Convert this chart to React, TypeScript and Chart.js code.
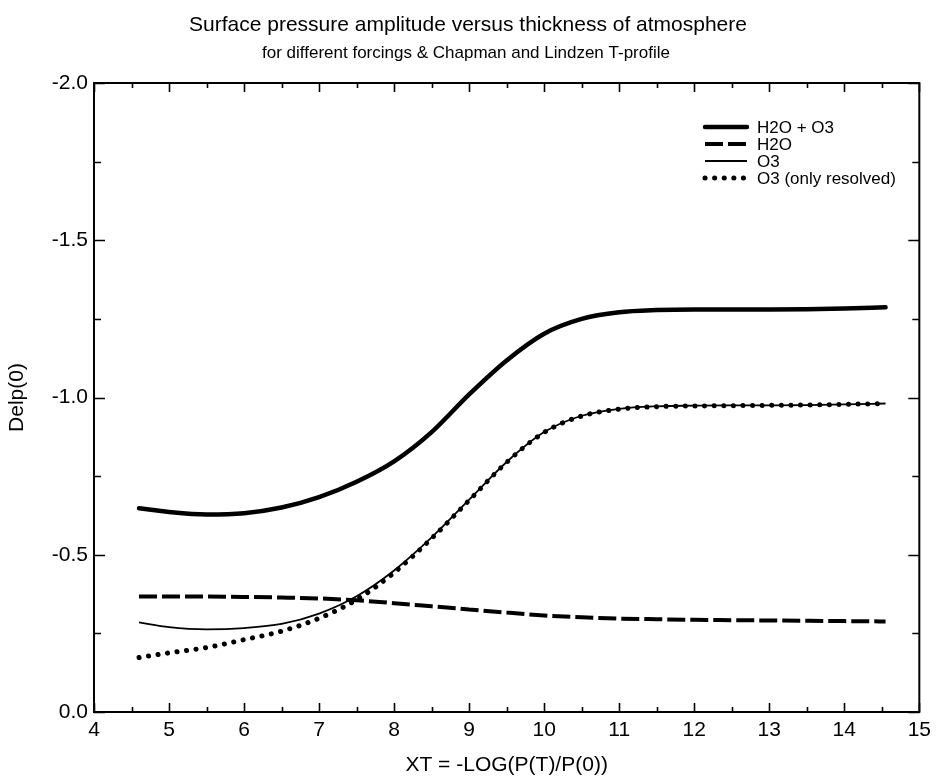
import React, { useEffect, useRef } from "react";
import { Chart, registerables } from "chart.js";

Chart.register(...registerables);

// ---- data ----
const XT = [4.6, 5.0, 5.5, 6.0, 6.5, 7.0, 7.5, 8.0, 8.5, 9.0, 9.5, 10.0, 10.5, 11.0, 11.5, 12.0, 12.5, 13.0, 13.5, 14.0, 14.55];
const H2O_O3 = [-0.648, -0.636, -0.628, -0.632, -0.65, -0.683, -0.732, -0.797, -0.89, -1.01, -1.118, -1.203, -1.25, -1.271, -1.278, -1.28, -1.28, -1.28, -1.281, -1.283, -1.287];
const H2O = [-0.367, -0.367, -0.367, -0.366, -0.364, -0.361, -0.355, -0.346, -0.336, -0.326, -0.316, -0.307, -0.301, -0.297, -0.295, -0.293, -0.292, -0.291, -0.29, -0.289, -0.288];
const O3 = [-0.285, -0.27, -0.263, -0.267, -0.28, -0.313, -0.368, -0.45, -0.555, -0.675, -0.795, -0.89, -0.942, -0.964, -0.972, -0.974, -0.975, -0.975, -0.976, -0.978, -0.981];
const O3_RESOLVED = [-0.173, -0.188, -0.205, -0.23, -0.257, -0.298, -0.357, -0.443, -0.552, -0.673, -0.794, -0.889, -0.941, -0.963, -0.971, -0.973, -0.974, -0.975, -0.976, -0.978, -0.981];

const SERIES_LABELS = ["H2O + O3", "H2O", "O3", "O3 (only resolved)"];
const X_MIN = 4;
const X_MAX = 15;
const Y_MIN = -2.0;
const Y_MAX = 0.0;
const X_STEP = 1;
const Y_STEP = 0.5;

const TITLE = "Surface pressure amplitude versus thickness of atmosphere";
const SUBTITLE = "for different forcings & Chapman and Lindzen T-profile";
const X_TITLE = "XT = -LOG(P(T)/P(0))";
const Y_TITLE = "Delp(0)";

const FONT = "'Liberation Sans', Arial, Helvetica, sans-serif";

const toPoints = (ys: number[]) => XT.map((x, i) => ({ x, y: ys[i] }));

const framePlugin = {
  id: "frameTicks",
  afterDraw(chart: any) {
    const { ctx, chartArea: a, scales } = chart;
    const xs = scales.x;
    const ys = scales.y;
    ctx.save();
    ctx.strokeStyle = "#000";
    ctx.lineWidth = 2;
    ctx.strokeRect(a.left, a.top, a.right - a.left, a.bottom - a.top);
    ctx.lineWidth = 1.6;
    ctx.beginPath();
    const nx = Math.round((X_MAX - X_MIN) / (X_STEP / 2));
    for (let i = 0; i <= nx; i++) {
      const v = X_MIN + (i * X_STEP) / 2;
      const px = Math.round(xs.getPixelForValue(v)) + 0.5;
      const len = i % 2 === 0 ? 9 : 5;
      ctx.moveTo(px, a.bottom);
      ctx.lineTo(px, a.bottom - len);
      ctx.moveTo(px, a.top);
      ctx.lineTo(px, a.top + len);
    }
    const ny = Math.round((Y_MAX - Y_MIN) / (Y_STEP / 2));
    for (let i = 0; i <= ny; i++) {
      const v = Y_MIN + (i * Y_STEP) / 2;
      const py = Math.round(ys.getPixelForValue(v)) + 0.5;
      const len = i % 2 === 0 ? 11 : 7;
      ctx.moveTo(a.left, py);
      ctx.lineTo(a.left + len, py);
      ctx.moveTo(a.right, py);
      ctx.lineTo(a.right - len, py);
    }
    ctx.stroke();
    ctx.restore();
  },
};

const titlePlugin = {
  id: "titles",
  afterDraw(chart: any) {
    const { ctx } = chart;
    ctx.save();
    ctx.fillStyle = "#000";
    ctx.textAlign = "center";
    ctx.textBaseline = "middle";
    ctx.font = `21px ${FONT}`;
    ctx.fillText(TITLE, 468, 25);
    ctx.font = `17px ${FONT}`;
    ctx.fillText(SUBTITLE, 466, 53);
    ctx.restore();
  },
};

const legendPlugin = {
  id: "lineLegend",
  afterDraw(chart: any) {
    const { ctx } = chart;
    const x0 = 705;
    const x1 = 747;
    const tx = 757;
    const top = 127;
    const gap = 17;
    ctx.save();
    chart.data.datasets.forEach((ds: any, i: number) => {
      const y = top + i * gap;
      ctx.beginPath();
      ctx.strokeStyle = ds.borderColor;
      ctx.lineWidth = ds.borderWidth;
      ctx.lineCap = ds.borderCapStyle || "butt";
      ctx.setLineDash(ds.borderDash || []);
      ctx.moveTo(x0, y);
      ctx.lineTo(x1, y);
      ctx.stroke();
      ctx.setLineDash([]);
      ctx.fillStyle = "#000";
      ctx.font = `17px ${FONT}`;
      ctx.textAlign = "left";
      ctx.textBaseline = "middle";
      ctx.fillText(ds.label, tx, y + 1);
    });
    ctx.restore();
  },
};

export default function App() {
  const ref = useRef<HTMLCanvasElement | null>(null);

  useEffect(() => {
    if (!ref.current) return;
    const chart = new Chart(ref.current, {
      type: "line",
      data: {
        datasets: [
          {
            label: SERIES_LABELS[0],
            data: toPoints(H2O_O3),
            borderColor: "#000",
            borderWidth: 4.5,
            borderCapStyle: "round",
            pointRadius: 0,
            cubicInterpolationMode: "monotone",
            fill: false,
          },
          {
            label: SERIES_LABELS[1],
            data: toPoints(H2O),
            borderColor: "#000",
            borderWidth: 4,
            borderDash: [18, 5],
            borderCapStyle: "butt",
            pointRadius: 0,
            cubicInterpolationMode: "monotone",
            fill: false,
          },
          {
            label: SERIES_LABELS[2],
            data: toPoints(O3),
            borderColor: "#000",
            borderWidth: 1.8,
            borderCapStyle: "butt",
            pointRadius: 0,
            cubicInterpolationMode: "monotone",
            fill: false,
          },
          {
            label: SERIES_LABELS[3],
            data: toPoints(O3_RESOLVED),
            borderColor: "#000",
            borderWidth: 5,
            borderDash: [0.1, 9.5],
            borderCapStyle: "round",
            pointRadius: 0,
            cubicInterpolationMode: "monotone",
            fill: false,
          },
        ],
      } as any,
      options: {
        responsive: false,
        animation: false,
        devicePixelRatio: 1,
        layout: { padding: { top: 83, right: 14, left: 0, bottom: 0 } },
        plugins: {
          legend: { display: false },
          tooltip: { enabled: false },
          title: { display: false },
        },
        scales: {
          x: {
            type: "linear",
            min: X_MIN,
            max: X_MAX,
            grid: { display: false, drawTicks: false },
            border: { display: false },
            ticks: {
              stepSize: X_STEP,
              color: "#000",
              padding: 6,
              font: { family: FONT, size: 21 },
              callback: (v: any) => String(v),
              maxRotation: 0,
            },
            title: {
              display: true,
              text: X_TITLE,
              color: "#000",
              font: { family: FONT, size: 21 },
              padding: { top: 0, bottom: 0 },
            },
            afterFit: (s: any) => {
              s.height = 66;
            },
          },
          y: {
            type: "linear",
            min: Y_MIN,
            max: Y_MAX,
            reverse: true,
            grid: { display: false, drawTicks: false },
            border: { display: false },
            ticks: {
              stepSize: Y_STEP,
              color: "#000",
              padding: 6,
              font: { family: FONT, size: 21 },
              callback: (v: any) => Number(v).toFixed(1),
            },
            title: {
              display: true,
              text: Y_TITLE,
              color: "#000",
              font: { family: FONT, size: 21 },
              padding: { top: 5, bottom: 0 },
            },
            afterFit: (s: any) => {
              s.width = 94;
            },
          },
        },
      } as any,
      plugins: [framePlugin, titlePlugin, legendPlugin],
    });
    return () => chart.destroy();
  }, []);

  return (
    <div style={{ position: "absolute", left: 0, top: 0, width: 937, height: 778, background: "#fff" }}>
      <canvas ref={ref} width={937} height={778} style={{ display: "block", width: 937, height: 778 }} />
    </div>
  );
}
